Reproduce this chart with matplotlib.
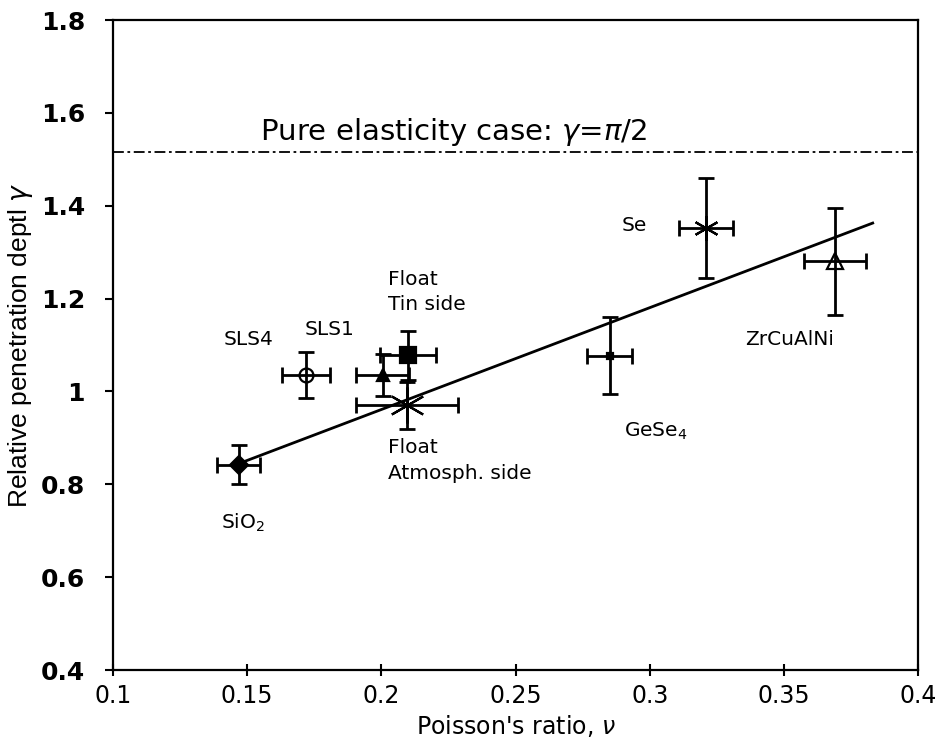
import numpy as np
import matplotlib
matplotlib.use("Agg")
import matplotlib.pyplot as plt

plt.rcParams['font.family'] = ['DejaVu Sans']

# Data: Poisson's ratio vs relative penetration depth
names = ["SiO2", "SLS4", "SLS1", "Float tin", "Float atm", "GeSe4", "Se", "ZrCuAlNi"]
nu = [0.147, 0.172, 0.2005, 0.210, 0.2095, 0.285, 0.321, 0.369]
nu_err = [0.008, 0.009, 0.010, 0.0105, 0.019, 0.0085, 0.010, 0.0115]
gam = [0.842, 1.035, 1.035, 1.078, 0.970, 1.077, 1.352, 1.280]
gam_err = [0.042, 0.050, 0.045, 0.053, 0.050, 0.083, 0.107, 0.115]
markers = ["D", "o", "^", "s", (6, 2, 0), "s", (6, 2, 0), "^"]
msizes = [9, 10, 8, 11, 26, 4, 18, 12]
filled = [True, False, True, True, True, True, True, False]

# linear trend line
fit_x = [0.147, 0.383]
slope, intercept = 2.195, 0.522
elastic_y = 1.515

fig, ax = plt.subplots(figsize=(9.39, 7.42), dpi=100)
fig.subplots_adjust(left=0.12, right=0.978, top=0.973, bottom=0.097)

for i in range(len(nu)):
    ax.errorbar(nu[i], gam[i], xerr=nu_err[i], yerr=gam_err[i], fmt='none',
                ecolor='black', elinewidth=2, capsize=6, capthick=2, zorder=3)
    ax.plot(nu[i], gam[i], linestyle='none', marker=markers[i], markersize=msizes[i],
            markerfacecolor='black' if filled[i] else 'none',
            markeredgecolor='black', markeredgewidth=1.6, zorder=4)

fx = np.array(fit_x)
ax.plot(fx, slope * fx + intercept, color='black', linewidth=2, zorder=2)
ax.axhline(elastic_y, color='black', linewidth=1.3, linestyle=(0, (6, 2, 1.5, 2)))

ax.text(0.155, 1.558, "Pure elasticity case: $\\gamma$=$\\pi$/2", fontsize=21, va='center')

lab = dict(fontsize=14.5, va='center')
ax.text(0.1505, 1.112, "SLS4", ha='center', **lab)
ax.text(0.1715, 1.133, "SLS1", **lab)
ax.text(0.2025, 1.214, "Float\nTin side", linespacing=1.45, **lab)
ax.text(0.2025, 0.852, "Float\nAtmosph. side", linespacing=1.45, **lab)
ax.text(0.1405, 0.718, "SiO$_2$", **lab)
ax.text(0.2905, 0.914, "GeSe$_4$", **lab)
ax.text(0.2895, 1.357, "Se", **lab)
ax.text(0.3355, 1.112, "ZrCuAlNi", **lab)

ax.set_xlim(0.1, 0.4)
ax.set_ylim(0.4, 1.8)
ax.set_xticks([0.1, 0.15, 0.2, 0.25, 0.3, 0.35, 0.4])
ax.set_xticklabels(["0.1", "0.15", "0.2", "0.25", "0.3", "0.35", "0.4"])
ax.set_yticks([0.4, 0.6, 0.8, 1.0, 1.2, 1.4, 1.6, 1.8])
ax.set_yticklabels(["0.4", "0.6", "0.8", "1", "1.2", "1.4", "1.6", "1.8"])
ax.tick_params(axis='y', labelsize=18, direction='out', length=6, width=1.5, pad=14)
ax.tick_params(axis='x', labelsize=17, direction='inout', length=8, width=1.5, pad=6)
for lbl in ax.get_yticklabels():
    lbl.set_fontweight('semibold')
for s in ax.spines.values():
    s.set_linewidth(1.6)

ax.set_xlabel("Poisson's ratio, $\\nu$", fontsize=17, labelpad=4)
ax.set_ylabel("Relative penetration deptl $\\gamma$", fontsize=19,
              family=['Liberation Sans Narrow', 'Liberation Sans', 'DejaVu Sans'])

fig.savefig("out.png", dpi=100)
